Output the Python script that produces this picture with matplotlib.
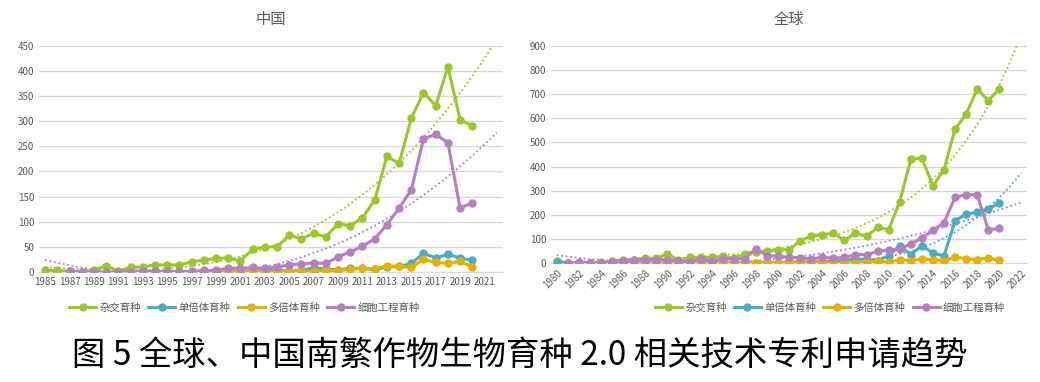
import matplotlib.pyplot as plt
import numpy as np

plt.rcParams['font.family'] = ['Noto Sans CJK SC', 'DejaVu Sans']

# 数据
years_cn = list(range(1985, 2021))
hybrid_cn = [3, 3, 2, 0, 4, 12, 2, 9, 10, 14, 14, 14, 20, 24, 27, 28, 22, 45,
             50, 50, 73, 66, 77, 70, 96, 92, 108, 143, 230, 216, 306, 357,
             331, 408, 303, 291]
haploid_cn = [None] * 13 + [0, 0, 0, 0, 5, 5, 3, 2, 3, 8, 6, 4, 7, 7, 5, 10,
                            11, 17, 37, 28, 35, 28, 23]
polyploid_cn = [None] * 13 + [1, 2, 3, 3, 5, 0, 0, 1, 1, 1, 3, 3, 5, 7, 6, 12,
                              11, 9, 25, 19, 17, 21, 10]
cell_cn = [None, None, 2, 0, 0, 0, 0, 0, 2, 1, 1, 1, 1, 3, 3, 8, 7, 9, 7, 10,
           14, 16, 18, 17, 30, 40, 51, 66, 94, 127, 163, 265, 274, 257, 127,
           138]

years_gl = list(range(1980, 2021))
hybrid_gl = [10, 0, 0, 0, 4, 7, 14, 14, 21, 19, 39, 11, 23, 23, 23, 28, 19, 39,
             47, 48, 55, 55, 92, 113, 117, 124, 94, 124, 110, 148, 138, 255,
             431, 435, 320, 387, 556, 617, 722, 674, 722]
haploid_gl = [4, 0, 0, 0, 0, 0, 0, 0, 0, 0, 0, 0, 0, 0, 0, 0, 0, 0, 2, 3, 0, 5,
              4, 5, 6, 8, 10, 18, 14, 10, 30, 72, 35, 72, 41, 30, 175, 203,
              210, 225, 248]
polyploid_gl = [None] * 6 + [0] * 15 + [3, 7, 0, 3, 0, 0, 0, 4, 7, 4, 14, 10,
                                        17, 14, 10, 25, 18, 14, 21, 11]
cell_gl = [None, 0, 3, 0, 0, 4, 10, 14, 14, 14, 14, 10, 4, 17, 7, 17, 17, 18,
           58, 30, 28, 23, 21, 18, 23, 21, 23, 35, 35, 48, 55, 58, 79, 104,
           135, 168, 272, 284, 283, 138, 144]

names = ['杂交育种', '单倍体育种', '多倍体育种', '细胞工程育种']
colors = ['#9BC72A', '#4BACC6', '#E5B000', '#B57FC0']


def arr(v):
    return np.array([np.nan if a is None else a for a in v], dtype=float)


# 趋势线: (类型, 拟合起始年)
def trend(x, y, kind, start, x_end):
    x = np.array(x)
    m = ~np.isnan(y) & (x >= start)
    xs, ys = x[m], y[m]
    xx = np.linspace(start, x_end, 200)
    if kind == 'exp':
        p = ys > 0
        b, a = np.polyfit(xs[p], np.log(ys[p]), 1)
        return xx, np.exp(a + b * xx)
    c = np.polyfit(xs - 2000, ys, int(kind[-1]))
    return xx, np.polyval(c, xx - 2000)


def draw(ax, years, series, trends, x_end, ylim, step, title, rot):
    for (vals, name, col), tr in zip(zip(series, names, colors), trends):
        y = arr(vals)
        ax.plot(years, y, color=col, lw=2.2, marker='o', ms=5, label=name,
                zorder=3)
        if tr:
            xx, yy = trend(years, y, tr[0], tr[1], x_end)
            ok = (yy >= 0)
            ax.plot(xx[ok], yy[ok], color=col, lw=1.3, ls=(0, (1, 1.5)),
                    zorder=2)
    ax.set_ylim(0, ylim)
    ax.set_yticks(np.arange(0, ylim + 1, step))
    ax.set_xlim(years[0] - 0.5, x_end + 0.5)
    ax.set_xticks(range(years[0], x_end + 1, 2))
    ax.grid(axis='y', color='#D9D9D9', lw=1)
    ax.set_axisbelow(True)
    for s in ['top', 'right', 'left']:
        ax.spines[s].set_visible(False)
    ax.spines['bottom'].set_color('#D9D9D9')
    ax.tick_params(length=0, labelsize=7, colors='#595959')
    if rot:
        plt.setp(ax.get_xticklabels(), rotation=45, ha='right',
                 rotation_mode='anchor')
    ax.set_title(title, fontsize=11, color='#595959', pad=16)


fig = plt.figure(figsize=(10.4, 3.82), dpi=100)
ax1 = fig.add_axes([0.0375, 0.288, 0.446, 0.592])
ax2 = fig.add_axes([0.530, 0.3115, 0.4575, 0.568])

draw(ax1, years_cn, [hybrid_cn, haploid_cn, polyploid_cn, cell_cn],
     [('poly3', 1985), None, None, ('poly3', 1985)], 2022, 450, 50, '中国',
     False)
draw(ax2, years_gl, [hybrid_gl, haploid_gl, polyploid_gl, cell_gl],
     [('exp', 1980), ('poly3', 2000), None, ('poly2', 1980)], 2022, 900, 100,
     '全球', True)

for ax, cx in [(ax1, 0.235), (ax2, 0.798)]:
    h, l = ax.get_legend_handles_labels()
    fig.legend(h, l, loc='center', bbox_to_anchor=(cx, 0.194), ncol=4,
               frameon=False, fontsize=7.5, handlelength=2.6,
               columnspacing=0.7, handletextpad=0.3, labelcolor='#595959')

fig.text(0.5, 0.07, '图 5 全球、中国南繁作物生物育种 2.0 相关技术专利申请趋势',
         ha='center', va='center', fontsize=24, color='black')

fig.savefig('out.png', dpi=100)
